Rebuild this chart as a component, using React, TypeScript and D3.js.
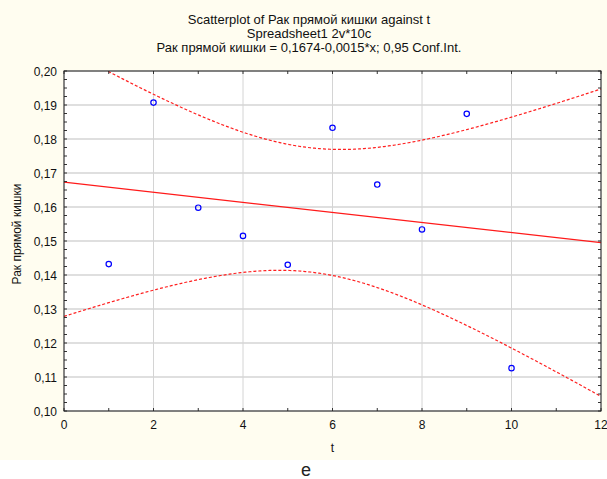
import React from "react";
import * as d3 from "d3";

const tValues = [1, 2, 3, 4, 5, 6, 7, 8, 9, 10];
const cancerValues = [0.1432, 0.1907, 0.1598, 0.1515, 0.1430, 0.1833, 0.1666, 0.1534, 0.1874, 0.1126];
const xTicks = [0, 2, 4, 6, 8, 10, 12];
const yTicks = [0.10, 0.11, 0.12, 0.13, 0.14, 0.15, 0.16, 0.17, 0.18, 0.19, 0.20];
const titleLines = [
  "Scatterplot of Рак прямой кишки against t",
  "Spreadsheet1 2v*10c",
  "Рак прямой кишки = 0,1674-0,0015*x; 0,95 Conf.Int.",
];
const tCrit = 2.306;

const W = 607, H = 479;
const M = { left: 64, right: 601, top: 71, bottom: 411 };
const FONT = "'Liberation Sans', Arial, sans-serif";

export default function App() {
  const x = d3.scaleLinear().domain([0, 12]).range([M.left, M.right]);
  const y = d3.scaleLinear().domain([0.10, 0.20]).range([M.bottom, M.top]);

  const n = tValues.length;
  const xm = d3.mean(tValues)!;
  const ym = d3.mean(cancerValues)!;
  const sxx = d3.sum(tValues, (v) => (v - xm) ** 2);
  const sxy = d3.sum(tValues, (v, i) => (v - xm) * (cancerValues[i] - ym));
  const b = sxy / sxx;
  const a = ym - b * xm;
  const sse = d3.sum(tValues, (v, i) => (cancerValues[i] - (a + b * v)) ** 2);
  const s = Math.sqrt(sse / (n - 2));

  const grid = d3.range(0, 12.0001, 0.05);
  const band = (sign: number) =>
    grid.map((v) => [v, a + b * v + sign * tCrit * s * Math.sqrt(1 / n + (v - xm) ** 2 / sxx)] as [number, number]);
  const line = d3.line<[number, number]>().x((d) => x(d[0])).y((d) => y(d[1]));

  const xMinor = d3.range(0, 12.001, 1);
  const yMinor = d3.range(0, 41).map((i) => 0.10 + i * 0.0025);

  return (
    <svg width={W} height={H} style={{ position: "absolute", left: 0, top: 0, display: "block" }}>
      <defs>
        <clipPath id="plotclip">
          <rect x={M.left} y={M.top} width={M.right - M.left} height={M.bottom - M.top} />
        </clipPath>
      </defs>
      <rect x={0} y={0} width={W} height={H} fill="#ffffff" />
      <rect x={0} y={0} width={W} height={460} fill="#fffdf0" />
      <rect x={M.left} y={M.top} width={M.right - M.left} height={M.bottom - M.top} fill="#ffffff" />

      {xTicks.map((v) => (
        <line key={"gx" + v} x1={x(v)} x2={x(v)} y1={M.top} y2={M.bottom} stroke="#d4d4d4" strokeWidth={1} />
      ))}
      {yTicks.map((v) => (
        <line key={"gy" + v} x1={M.left} x2={M.right} y1={y(v)} y2={y(v)} stroke="#d4d4d4" strokeWidth={1.5} />
      ))}

      <g clipPath="url(#plotclip)">
        <path d={line(band(1)) || ""} fill="none" stroke="#ff2020" strokeWidth={1.2} strokeDasharray="3,2" />
        <path d={line(band(-1)) || ""} fill="none" stroke="#ff2020" strokeWidth={1.2} strokeDasharray="3,2" />
        <path d={line([[0, a], [12, a + b * 12]]) || ""} fill="none" stroke="#ff1a1a" strokeWidth={1.3} />
      </g>

      {tValues.map((v, i) => (
        <circle key={"p" + i} cx={x(v)} cy={y(cancerValues[i])} r={2.7} fill="none" stroke="#0000ff" strokeWidth={1.2} />
      ))}

      {xMinor.map((v) => (
        <g key={"tx" + v}>
          <line x1={x(v)} x2={x(v)} y1={M.bottom} y2={M.bottom - 3} stroke="#333" strokeWidth={1} />
          <line x1={x(v)} x2={x(v)} y1={M.top} y2={M.top + 3} stroke="#333" strokeWidth={1} />
        </g>
      ))}
      {yMinor.map((v, i) => (
        <g key={"ty" + i}>
          <line x1={M.left} x2={M.left + 3} y1={y(v)} y2={y(v)} stroke="#333" strokeWidth={1} />
          <line x1={M.right} x2={M.right - 3} y1={y(v)} y2={y(v)} stroke="#333" strokeWidth={1} />
        </g>
      ))}

      <rect x={M.left} y={M.top} width={M.right - M.left} height={M.bottom - M.top} fill="none" stroke="#222" strokeWidth={1} />

      {yTicks.map((v) => (
        <text key={"ly" + v} x={M.left - 7} y={y(v) + 4.5} textAnchor="end" fontFamily={FONT} fontSize={12} fill="#111">
          {v.toFixed(2).replace(".", ",")}
        </text>
      ))}
      {xTicks.map((v) => (
        <text key={"lx" + v} x={x(v)} y={M.bottom + 18} textAnchor="middle" fontFamily={FONT} fontSize={12} fill="#111">
          {String(v)}
        </text>
      ))}

      <text x={x(6)} y={452} textAnchor="middle" fontFamily={FONT} fontSize={12} fill="#111">t</text>
      <text transform={`translate(21,234) rotate(-90)`} textAnchor="middle" fontFamily={FONT} fontSize={12} fill="#111">
        Рак прямой кишки
      </text>

      {titleLines.map((t, i) => (
        <text key={"t" + i} x={309} y={24 + i * 14} textAnchor="middle" fontFamily={FONT} fontSize={13} fill="#111">
          {t}
        </text>
      ))}

      <text x={306} y={476} textAnchor="middle" fontFamily={FONT} fontSize={18} fill="#222">e</text>
    </svg>
  );
}
